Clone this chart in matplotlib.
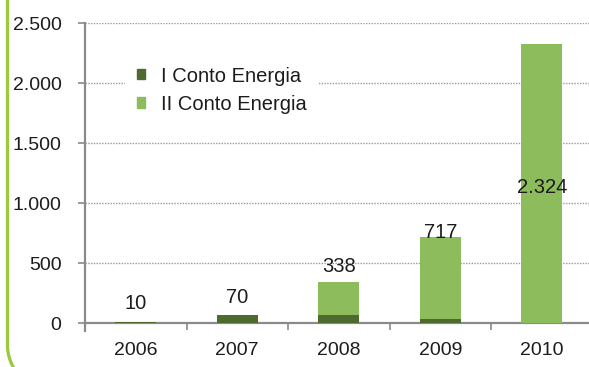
import numpy as np
import matplotlib.pyplot as plt
from matplotlib.patches import Patch
from matplotlib.lines import Line2D

plt.rcParams["font.family"] = ["Liberation Sans", "DejaVu Sans"]

years = ["2006", "2007", "2008", "2009", "2010"]
conto_1 = [10, 70, 65, 35, 0]
conto_2 = [0, 0, 273, 682, 2324]
totals = [a + b for a, b in zip(conto_1, conto_2)]
yticks = [0, 500, 1000, 1500, 2000, 2500]
ytick_labels = ["0", "500", "1.000", "1.500", "2.000", "2.500"]
# label offsets above the bar top, in points
label_offsets = [13.5, 12, 11.5, 3.5, -103]

dark_green = "#4e6a30"
light_green = "#8cbc5c"
axis_grey = "#8a8a8a"
text_col = "#1c1c1c"

fig = plt.figure(figsize=(5.89, 3.67), dpi=100)
W, H = 589, 367

# left edge of the rounded page frame, in pixels from the top-left corner
r = 45
theta = np.linspace(0, 0.5 * np.pi, 40)
fx = np.concatenate([[7.5], 7.5 + r - r * np.cos(theta)])
fy = np.concatenate([[-10], 345 + r * np.sin(theta)])
fig.add_artist(Line2D(fx / W, 1 - fy / H, transform=fig.transFigure,
                      color="#9cc83c", linewidth=2.3, solid_capstyle="butt"))

ax = fig.add_axes([85 / W, (H - 323) / H, 507.5 / W, 300 / H])
x = range(len(years))
ax.bar(x, conto_1, width=0.4, color=dark_green, zorder=3)
ax.bar(x, conto_2, width=0.4, bottom=conto_1, color=light_green, zorder=3)

for i, (t, off) in enumerate(zip(totals, label_offsets)):
    ax.annotate(f"{t:,}".replace(",", "."), (i, t), xytext=(0, off),
                textcoords="offset points", ha="center", va="center",
                fontsize=14.5, color=text_col, zorder=4)

ax.set_xlim(-0.5, 4.5)
ax.set_ylim(0, 2500)
ax.set_yticks(yticks)
ax.set_yticklabels(ytick_labels, fontsize=14, color=text_col)
ax.tick_params(axis="y", length=5, width=1.2, color=axis_grey, pad=12)

# category boundaries carry the tick marks, centres carry the labels
ax.set_xticks([-0.5, 0.5, 1.5, 2.5, 3.5])
ax.set_xticklabels([])
ax.tick_params(axis="x", which="major", length=5, width=1.2, color=axis_grey)
ax.set_xticks(list(x), minor=True)
ax.set_xticklabels(years, minor=True, fontsize=14, color=text_col)
ax.tick_params(axis="x", which="minor", length=0, pad=14)

ax.yaxis.grid(True, linestyle=(0, (1, 1)), color="#9a9a9a", linewidth=1.0, zorder=0)
ax.set_axisbelow(True)

for s in ["top", "right"]:
    ax.spines[s].set_visible(False)
for s in ["left", "bottom"]:
    ax.spines[s].set_color(axis_grey)
    ax.spines[s].set_linewidth(1.6)
ax.add_line(Line2D([0, 0], [-0.025, 0], transform=ax.transAxes,
                   color=axis_grey, linewidth=1.6, clip_on=False))

handles = [Patch(color=dark_green), Patch(color=light_green)]
leg = ax.legend(handles, ["I Conto Energia", "II Conto Energia"],
                loc="upper left", bbox_to_anchor=(0.079, 0.895),
                fontsize=14.5, frameon=True, facecolor="white",
                edgecolor="none", framealpha=1, handlelength=0.4,
                handleheight=0.4, handletextpad=0.8, labelspacing=0.45,
                borderpad=0.6, borderaxespad=0)
for txt in leg.get_texts():
    txt.set_color(text_col)
leg.set_zorder(5)

fig.savefig("out.png", dpi=100)
